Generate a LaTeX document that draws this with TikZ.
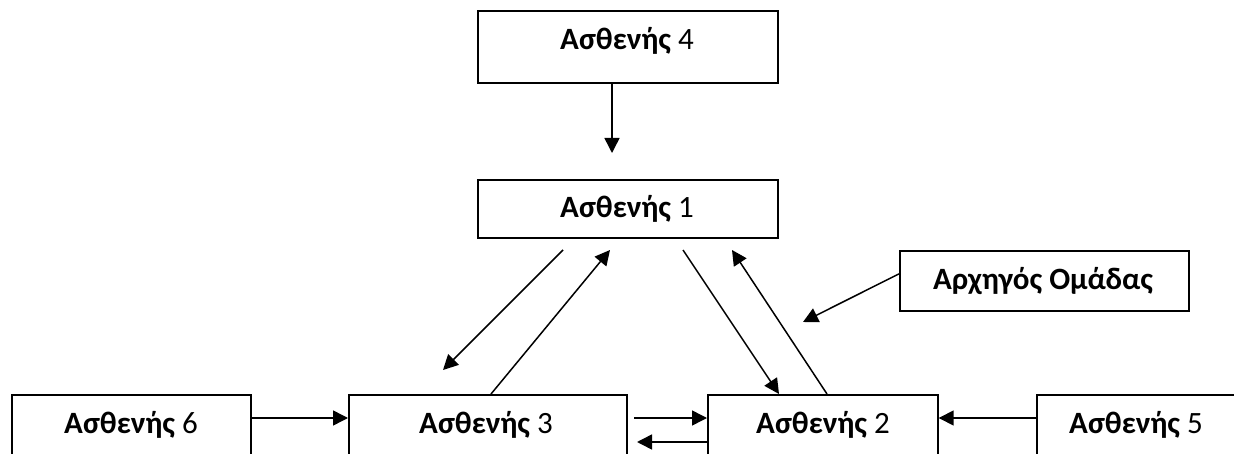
\documentclass[tikz,border=0pt]{standalone}
\usepackage{fontspec}
\setmainfont{Carlito}
\usetikzlibrary{arrows.meta}
\begin{document}
\begin{tikzpicture}[x=1pt,y=-1pt,
  box/.style={draw, line width=1.7pt, inner sep=0pt, anchor=north west},
  lbl/.style={anchor=base, inner sep=0pt, font=\fontsize{31}{36}\selectfont},
  arr/.style={line width=1.5pt, -{Triangle[length=15pt,width=15pt]}}]
\clip (0,0) rectangle (1234,454);
% boxes
\node[box, minimum width=300pt, minimum height=72pt] (p4) at (477,10) {};
\node[box, minimum width=300pt, minimum height=58pt] (p1) at (477,179) {};
\node[box, minimum width=289pt, minimum height=60pt] (ld) at (899,250) {};
\node[box, minimum width=239pt, minimum height=80pt] (p6) at (11,394) {};
\node[box, minimum width=278pt, minimum height=80pt] (p3) at (348,394) {};
\node[box, minimum width=230pt, minimum height=80pt] (p2) at (707,394) {};
\node[box, minimum width=200pt, minimum height=80pt] (p5) at (1036,394) {};
% labels
\node[lbl] (t4) at (627,50) {\textbf{Ασθενής} 4};
\node[lbl] (t1) at (627,218) {\textbf{Ασθενής} 1};
\node[lbl] (tl) at (1043,290) {\textbf{Αρχηγός Ομάδας}};
\node[lbl] (t6) at (131,433) {\textbf{Ασθενής} 6};
\node[lbl] (t3) at (486,433) {\textbf{Ασθενής} 3};
\node[lbl] (t2) at (823,433) {\textbf{Ασθενής} 2};
\node[lbl] (t5) at (1136,433) {\textbf{Ασθενής} 5};
% free ends
\coordinate (a4) at (612,153);
\coordinate (s13) at (563,250);
\coordinate (e13) at (443,370);
\coordinate (s31) at (491,394);
\coordinate (e31) at (610,250);
\coordinate (s12) at (683,250);
\coordinate (e12) at (779,394);
\coordinate (s21) at (827,394);
\coordinate (e21) at (732,250);
\coordinate (eld) at (803,322);
\coordinate (y1) at (0,418);
\coordinate (y2) at (0,442);
\coordinate (s32) at (634,418);
\coordinate (e23) at (637,442);
% connectors
\draw[arr] (p4.south -| a4) -- (a4);
\draw[arr] (s13) -- (e13);
\draw[arr] (s31) -- (e31);
\draw[arr] (s12) -- (e12);
\draw[arr] (s21) -- (e21);
\draw[arr] ([yshift=7pt]ld.west) -- (eld);
\draw[arr] (p6.east |- y1) -- (p3.west |- y1);
\draw[arr] (s32) -- (p2.west |- y1);
\draw[arr] (p2.west |- y2) -- (e23);
\draw[arr] (p5.west |- y1) -- (p2.east |- y1);
\end{tikzpicture}
\end{document}
